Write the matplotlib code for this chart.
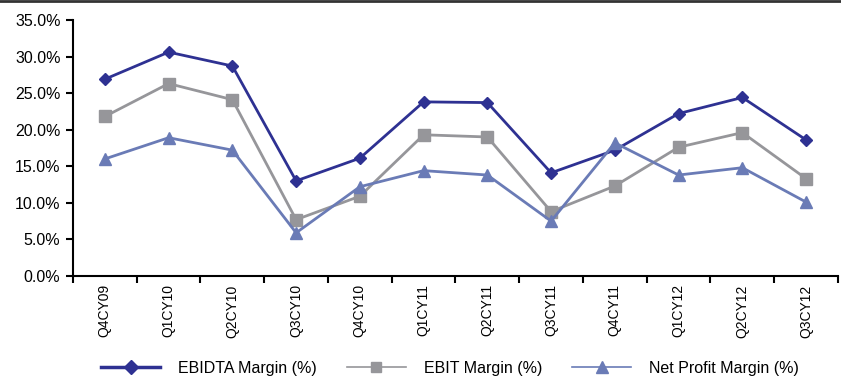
import matplotlib
matplotlib.use("Agg")
import matplotlib.pyplot as plt
from matplotlib.lines import Line2D
from matplotlib.ticker import FuncFormatter, FixedLocator

plt.rcParams['font.family'] = ['Liberation Sans', 'DejaVu Sans']

# Quarterly margins (%)
quarters = ["Q4CY09", "Q1CY10", "Q2CY10", "Q3CY10", "Q4CY10", "Q1CY11",
            "Q2CY11", "Q3CY11", "Q4CY11", "Q1CY12", "Q2CY12", "Q3CY12"]
ebitda = [26.9, 30.6, 28.7, 13.0, 16.1, 23.8, 23.7, 14.1, 17.2, 22.2, 24.4, 18.6]
ebit = [21.8, 26.3, 24.1, 7.7, 10.9, 19.3, 19.0, 8.8, 12.3, 17.6, 19.6, 13.3]
net_profit = [16.0, 18.9, 17.2, 5.9, 12.2, 14.4, 13.8, 7.5, 18.2, 13.8, 14.8, 10.1]

fig = plt.figure(figsize=(8.41, 3.76), dpi=100)
ax = fig.add_axes([0.0868, 0.266, 0.9096, 0.681])

x = list(range(len(quarters)))
ax.plot(x, ebitda, color='#2E3192', lw=2, marker='D', ms=6, label='EBIDTA Margin (%)')
ax.plot(x, ebit, color='#96969A', lw=2, marker='s', ms=8, label='EBIT Margin (%)')
ax.plot(x, net_profit, color='#6A7BB6', lw=2, marker='^', ms=9, label='Net Profit Margin (%)')

ax.set_xlim(-0.5, len(quarters) - 0.5)
ax.set_ylim(0, 35)
ax.set_yticks([0, 5, 10, 15, 20, 25, 30, 35])
ax.yaxis.set_major_formatter(FuncFormatter(lambda v, p: f"{v:.1f}%"))

ax.set_xticks(x)
ax.set_xticklabels(quarters, rotation=90)
ax.xaxis.set_minor_locator(FixedLocator([i - 0.5 for i in range(len(quarters) + 1)]))
ax.tick_params(axis='x', which='major', length=0, pad=6, labelsize=10)
ax.tick_params(axis='x', which='minor', length=5, width=1.5, direction='out')
ax.tick_params(axis='y', length=5, width=1.5, direction='out', labelsize=11.5, pad=4)

for s in ['top', 'right']:
    ax.spines[s].set_visible(False)
for s in ['left', 'bottom']:
    ax.spines[s].set_linewidth(1.5)

handles = [
    Line2D([], [], color='#2E3192', lw=2.5, marker='D', ms=7),
    Line2D([], [], color='#96969A', lw=1.2, marker='s', ms=7),
    Line2D([], [], color='#6A7BB6', lw=1.2, marker='^', ms=9),
]
fig.legend(handles, [l.get_label() for l in ax.get_lines()], loc='center',
           bbox_to_anchor=(0.535, 0.02), ncol=3, frameon=False, fontsize=11.5,
           handlelength=3.7, columnspacing=1.9, handletextpad=1.1)

# thin rule along the top edge
fig.add_artist(Line2D([0, 1], [0.998, 0.998], transform=fig.transFigure,
                      color='#333333', lw=2))

fig.savefig("out.png", dpi=100)
